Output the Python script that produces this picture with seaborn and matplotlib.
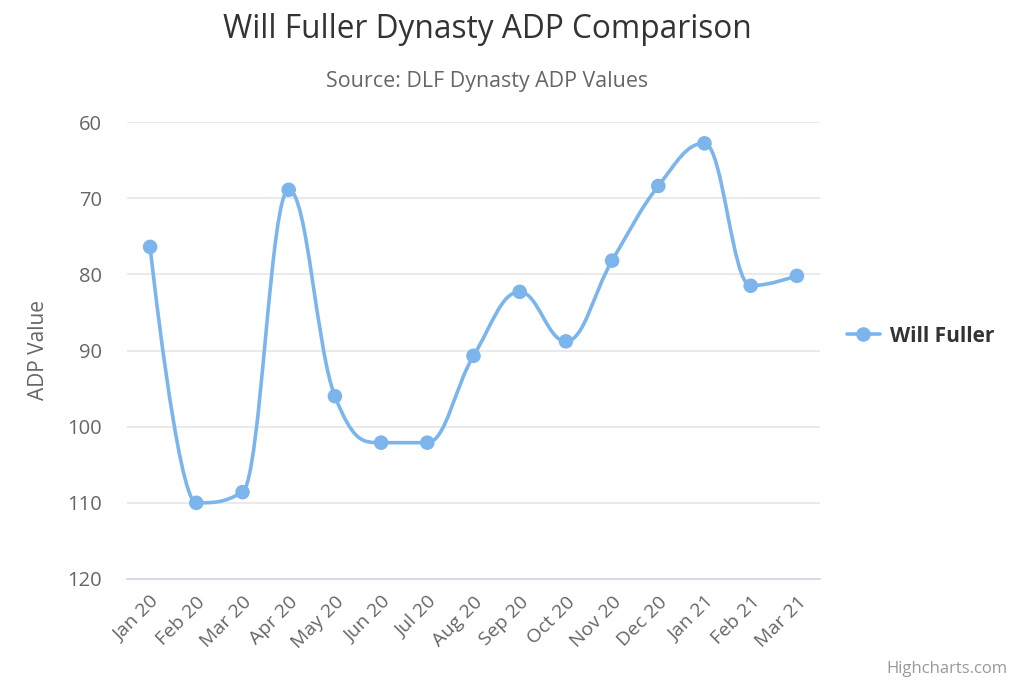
import matplotlib
matplotlib.use("Agg")
import matplotlib.pyplot as plt
from matplotlib.path import Path
from matplotlib.patches import PathPatch
from matplotlib.lines import Line2D
import seaborn as sns
import numpy as np
import pandas as pd

months = ["Jan 20", "Feb 20", "Mar 20", "Apr 20", "May 20", "Jun 20", "Jul 20",
          "Aug 20", "Sep 20", "Oct 20", "Nov 20", "Dec 20", "Jan 21", "Feb 21", "Mar 21"]
adp = [76.4, 110.0, 108.6, 68.9, 96.0, 102.1, 102.1, 90.7, 82.3, 88.8, 78.2, 68.4, 62.8, 81.5, 80.2]
series_name = "Will Fuller"
yticks = [60, 70, 80, 90, 100, 110, 120]

COLOR = "#7cb5ec"
sns.set_theme(style="white")
plt.rcParams["font.family"] = ["Open Sans", "DejaVu Sans"]

df = pd.DataFrame({"month": months, "adp": adp})
df["x"] = np.arange(len(months))

fig = plt.figure(figsize=(10.24, 6.83), dpi=100)
ax = fig.add_axes([127/1024, 1 - 579/683, (820-127)/1024, (579-122)/683])


def spline_path(xs, ys, smoothing=1.5):
    denom = smoothing + 1
    n = len(xs)
    lc = [None]*n
    rc = [None]*n
    for i in range(1, n-1):
        px, py = xs[i], ys[i]
        lx, ly = xs[i-1], ys[i-1]
        nx, ny = xs[i+1], ys[i+1]
        lcx = (smoothing*px + lx)/denom
        lcy = (smoothing*py + ly)/denom
        rcx = (smoothing*px + nx)/denom
        rcy = (smoothing*py + ny)/denom
        if rcx != lcx:
            corr = ((rcy - lcy)*(rcx - px))/(rcx - lcx) + py - rcy
            lcy += corr
            rcy += corr
        if lcy > ly and lcy > py:
            lcy = max(ly, py); rcy = 2*py - lcy
        elif lcy < ly and lcy < py:
            lcy = min(ly, py); rcy = 2*py - lcy
        if rcy > ny and rcy > py:
            rcy = max(ny, py); lcy = 2*py - rcy
        elif rcy < ny and rcy < py:
            rcy = min(ny, py); lcy = 2*py - rcy
        lc[i] = (lcx, lcy)
        rc[i] = (rcx, rcy)
    verts = [(xs[0], ys[0])]
    codes = [Path.MOVETO]
    for i in range(1, n):
        c1 = rc[i-1] if rc[i-1] is not None else (xs[i-1], ys[i-1])
        c2 = lc[i] if lc[i] is not None else (xs[i], ys[i])
        verts += [c1, c2, (xs[i], ys[i])]
        codes += [Path.CURVE4]*3
    return Path(verts, codes)


path = spline_path(list(df["x"]), list(df["adp"]))
ax.add_patch(PathPatch(path, facecolor="none", edgecolor=COLOR, lw=2.6,
                       capstyle="round", joinstyle="round", zorder=2))
sns.scatterplot(data=df, x="x", y="adp", ax=ax, color=COLOR, s=110,
                edgecolor="none", zorder=3, legend=False)

ax.set_xlim(-0.5, len(months) - 0.5)
ax.set_ylim(120, 60)
ax.set_yticks(yticks)
ax.set_yticklabels([str(v) for v in yticks], color="#666666", fontsize=14.5)
ax.set_xticks(df["x"])
ax.set_xticklabels(months, rotation=45, ha="right", rotation_mode="anchor",
                   color="#666666", fontsize=14)
ax.tick_params(axis="y", length=0, pad=18)
ax.tick_params(axis="x", length=0, pad=10)
ax.grid(axis="y", color="#e6e6e6", lw=1.2)
ax.grid(axis="x", visible=False)
for s in ["top", "left", "right"]:
    ax.spines[s].set_visible(False)
ax.spines["bottom"].set_color("#ccd6eb")
ax.spines["bottom"].set_linewidth(1.2)
ax.set_xlabel("")
ax.set_ylabel("ADP Value", color="#666666", fontsize=15)
ax.yaxis.set_label_coords(-(127 - 49) / 693, 0.5)

fig.text(0.4755, 1 - 30/683, "Will Fuller Dynasty ADP Comparison", ha="center", va="center",
         fontsize=22.8, color="#333333", fontstretch="semi-condensed")
fig.text(0.4755, 1 - 81/683, "Source: DLF Dynasty ADP Values", ha="center", va="center",
         fontsize=15.4, color="#666666")

handle = Line2D([0], [0], color=COLOR, lw=2.6, marker="o", markersize=10.5,
                markeredgewidth=0)
fig.legend([handle], [series_name], loc="center left",
           bbox_to_anchor=(828/1024, 1 - 336/683), frameon=False,
           prop={"weight": "bold", "size": 15}, handlelength=1.6,
           handletextpad=0.5, labelcolor="#333333")

fig.text(1 - 17/1024, 1 - 669/683, "Highcharts.com", ha="right", va="center",
         fontsize=12, color="#999999")

fig.savefig("out.png", dpi=100, facecolor="white")
